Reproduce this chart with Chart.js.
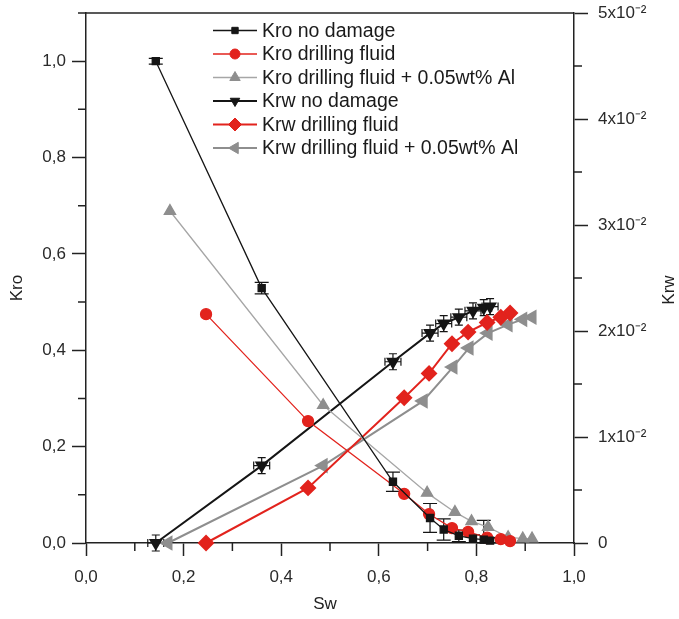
<!DOCTYPE html>
<html>
<head>
<meta charset="utf-8">
<script src="https://cdn.jsdelivr.net/npm/chart.js@4.4.0/dist/chart.umd.min.js"></script>
<style>
  html, body { margin: 0; padding: 0; background: #fff; }
  #wrap { width: 679px; height: 619px; position: relative; }
</style>
</head>
<body>
<div id="wrap"><canvas id="myChart"></canvas></div>
<script>
// Sw values and relative permeabilities
const swNoDamage = [0.143, 0.36, 0.629, 0.705, 0.733, 0.764, 0.793, 0.815, 0.828];
const kroNoDamage = [1.0, 0.529, 0.127, 0.052, 0.028, 0.015, 0.009, 0.007, 0.005];
const kroNoDamageErr = [0.006, 0.012, 0.02, 0.03, 0.022, 0.012, 0.008, 0.04, 0.006];
const krwNoDamage = [0, 0.0073, 0.0171, 0.0198, 0.0207, 0.0213, 0.0219, 0.0222, 0.0223];

const swFluid = [0.246, 0.455, 0.652, 0.703, 0.75, 0.783, 0.822, 0.85, 0.869];
const kroFluid = [0.475, 0.253, 0.102, 0.06, 0.031, 0.023, 0.011, 0.008, 0.004];
const krwFluid = [0, 0.0052, 0.0137, 0.016, 0.0188, 0.0199, 0.0208, 0.0213, 0.0217];

const swAlKro = [0.172, 0.486, 0.699, 0.756, 0.79, 0.824, 0.865, 0.895, 0.914];
const kroAl = [0.689, 0.286, 0.104, 0.064, 0.045, 0.033, 0.012, 0.009, 0.009];
const swAlKrw = [0.168, 0.486, 0.691, 0.752, 0.785, 0.824, 0.865, 0.895, 0.914];
const krwAl = [0, 0.0073, 0.0134, 0.0166, 0.0184, 0.0198, 0.0206, 0.0211, 0.0213];

const xTicks = [0, 0.2, 0.4, 0.6, 0.8, 1.0];
const kroTicks = [0, 0.2, 0.4, 0.6, 0.8, 1.0];
const krwTicks = [0, 0.01, 0.02, 0.03, 0.04, 0.05];

const BLACK = '#151515';
const RED = '#e2231d';
const GRAY = '#8e8e8e';
const LIGHTGRAY = '#a6a6a6';
const FONT = '"Liberation Sans", Arial, sans-serif';

function pts(xs, ys) {
    return xs.map((x, i) => ({ x: x, y: ys[i] }));
}

const extras = {
    id: 'extras',
    beforeDatasetsDraw(chart) {
        const ctx = chart.ctx;
        const x = chart.scales.x, y = chart.scales.y, y1 = chart.scales.y1;
        ctx.save();
        ctx.strokeStyle = BLACK;
        ctx.lineWidth = 1.2;
        // error bars Kro no damage
        swNoDamage.forEach((sw, i) => {
            const px = x.getPixelForValue(sw);
            const top = y.getPixelForValue(kroNoDamage[i] + kroNoDamageErr[i]);
            const bot = y.getPixelForValue(Math.max(0, kroNoDamage[i] - kroNoDamageErr[i]));
            ctx.beginPath();
            ctx.moveTo(px, top); ctx.lineTo(px, bot);
            ctx.moveTo(px - 7, top); ctx.lineTo(px + 7, top);
            ctx.moveTo(px - 7, bot); ctx.lineTo(px + 7, bot);
            ctx.stroke();
        });
        // error bars Krw no damage (vertical + horizontal)
        swNoDamage.forEach((sw, i) => {
            const px = x.getPixelForValue(sw);
            const py = y1.getPixelForValue(krwNoDamage[i]);
            ctx.beginPath();
            ctx.moveTo(px, py - 8); ctx.lineTo(px, py + 8);
            ctx.moveTo(px - 4, py - 8); ctx.lineTo(px + 4, py - 8);
            ctx.moveTo(px - 4, py + 8); ctx.lineTo(px + 4, py + 8);
            ctx.moveTo(px - 8, py); ctx.lineTo(px + 8, py);
            ctx.moveTo(px - 8, py - 4); ctx.lineTo(px - 8, py + 4);
            ctx.moveTo(px + 8, py - 4); ctx.lineTo(px + 8, py + 4);
            ctx.stroke();
        });
        ctx.restore();
    },
    afterDraw(chart) {
        const ctx = chart.ctx;
        const a = chart.chartArea;
        const x = chart.scales.x, y = chart.scales.y, y1 = chart.scales.y1;
        ctx.save();
        ctx.strokeStyle = '#222';
        ctx.lineWidth = 1.5;
        // top frame line
        ctx.beginPath();
        ctx.moveTo(a.left - 8, a.top); ctx.lineTo(a.right, a.top);
        ctx.stroke();
        // minor ticks
        ctx.beginPath();
        for (let v = 0.1; v < 1; v += 0.2) {
            const px = x.getPixelForValue(v);
            ctx.moveTo(px, a.bottom); ctx.lineTo(px, a.bottom + 8);
            const py = y.getPixelForValue(v);
            ctx.moveTo(a.left, py); ctx.lineTo(a.left - 8, py);
        }
        for (let v = 0.005; v < 0.05; v += 0.01) {
            const py = y1.getPixelForValue(v);
            ctx.moveTo(a.right, py); ctx.lineTo(a.right + 8, py);
        }
        ctx.stroke();

        // axis titles
        ctx.fillStyle = '#222';
        ctx.font = '17px ' + FONT;
        ctx.textAlign = 'center';
        ctx.textBaseline = 'middle';
        ctx.fillText('Sw', (a.left + a.right) / 2 - 5, 604);
        ctx.save();
        ctx.translate(17, 288);
        ctx.rotate(-Math.PI / 2);
        ctx.fillText('Kro', 0, 0);
        ctx.restore();
        ctx.save();
        ctx.translate(669, 290);
        ctx.rotate(-Math.PI / 2);
        ctx.fillText('Krw', 0, 0);
        ctx.restore();

        // legend
        ctx.font = '19.5px ' + FONT;
        ctx.textAlign = 'left';
        chart.data.datasets.forEach((ds, i) => {
            const ly = 30.5 + i * 23.5;
            ctx.strokeStyle = ds.borderColor;
            ctx.lineWidth = ds.borderWidth;
            ctx.beginPath();
            ctx.moveTo(213, ly); ctx.lineTo(257, ly);
            ctx.stroke();
            ctx.fillStyle = ds.pointBackgroundColor;
            ctx.strokeStyle = ds.pointBorderColor;
            ctx.lineWidth = 1;
            Chart.helpers.drawPoint(ctx, {
                pointStyle: ds.pointStyle,
                radius: ds.pointRadius - 0.5,
                rotation: ds.pointRotation || 0,
                borderWidth: 1
            }, 235, ly);
            ctx.fillStyle = '#1a1a1a';
            ctx.fillText(ds.label, 262, ly + 1);
        });
        ctx.restore();
    }
};

const ctx = document.getElementById('myChart');

new Chart(ctx, {
    type: 'scatter',
    data: {
        datasets: [{
            label: 'Kro no damage',
            data: pts(swNoDamage, kroNoDamage),
            yAxisID: 'y',
            showLine: true,
            borderColor: BLACK,
            borderWidth: 1.3,
            pointStyle: 'rect',
            pointRadius: 5,
            pointBackgroundColor: BLACK,
            pointBorderColor: BLACK
        }, {
            label: 'Kro drilling fluid',
            data: pts(swFluid, kroFluid),
            yAxisID: 'y',
            showLine: true,
            borderColor: RED,
            borderWidth: 1.3,
            pointStyle: 'circle',
            pointRadius: 5.5,
            pointBackgroundColor: RED,
            pointBorderColor: RED
        }, {
            label: 'Kro drilling fluid + 0.05wt% Al',
            data: pts(swAlKro, kroAl),
            yAxisID: 'y',
            showLine: true,
            borderColor: LIGHTGRAY,
            borderWidth: 1.3,
            pointStyle: 'triangle',
            pointRadius: 6.5,
            pointBackgroundColor: GRAY,
            pointBorderColor: GRAY
        }, {
            label: 'Krw no damage',
            data: pts(swNoDamage, krwNoDamage),
            yAxisID: 'y1',
            showLine: true,
            borderColor: BLACK,
            borderWidth: 2,
            pointStyle: 'triangle',
            pointRotation: 180,
            pointRadius: 6,
            pointBackgroundColor: BLACK,
            pointBorderColor: BLACK
        }, {
            label: 'Krw drilling fluid',
            data: pts(swFluid, krwFluid),
            yAxisID: 'y1',
            showLine: true,
            borderColor: RED,
            borderWidth: 2,
            pointStyle: 'rectRot',
            pointRadius: 7,
            pointBackgroundColor: RED,
            pointBorderColor: RED
        }, {
            label: 'Krw drilling fluid + 0.05wt% Al',
            data: pts(swAlKrw, krwAl),
            yAxisID: 'y1',
            showLine: true,
            borderColor: GRAY,
            borderWidth: 2,
            pointStyle: 'triangle',
            pointRotation: -90,
            pointRadius: 7,
            pointBackgroundColor: GRAY,
            pointBorderColor: GRAY
        }]
    },
    options: {
        responsive: true,
        maintainAspectRatio: false,
        animation: false,
        layout: { padding: { top: 13, left: 0, right: 0, bottom: 0 } },
        elements: { line: { tension: 0 } },
        datasets: { scatter: { clip: false } },
        plugins: {
            legend: { display: false },
            tooltip: { enabled: false }
        },
        scales: {
            x: {
                type: 'linear',
                min: 0,
                max: 1,
                afterFit: s => { s.height = 76; s.paddingLeft = 0; s.paddingRight = 0; },
                afterBuildTicks: s => { s.ticks = xTicks.map(v => ({ value: v })); },
                border: { display: true, color: '#222', width: 1.5 },
                grid: { drawOnChartArea: false, drawTicks: true, tickLength: 13, tickColor: '#222', tickWidth: 1.5 },
                ticks: {
                    padding: 11,
                    color: '#2a2a2a',
                    font: { family: FONT, size: 17 },
                    maxRotation: 0,
                    callback: v => v.toFixed(1).replace('.', ',')
                }
            },
            y: {
                type: 'linear',
                position: 'left',
                min: 0,
                max: 1.1,
                afterFit: s => { s.width = 86; s.paddingTop = 0; s.paddingBottom = 0; },
                afterBuildTicks: s => { s.ticks = kroTicks.map(v => ({ value: v })); },
                border: { display: true, color: '#222', width: 1.5 },
                grid: { drawOnChartArea: false, drawTicks: true, tickLength: 14, tickColor: '#222', tickWidth: 1.5 },
                ticks: {
                    padding: 6,
                    color: '#2a2a2a',
                    font: { family: FONT, size: 17 },
                    callback: v => v.toFixed(1).replace('.', ',')
                }
            },
            y1: {
                type: 'linear',
                position: 'right',
                min: 0,
                max: 0.05,
                afterFit: s => { s.width = 105; s.paddingTop = 0; s.paddingBottom = 0; },
                afterBuildTicks: s => { s.ticks = krwTicks.map(v => ({ value: v })); },
                border: { display: true, color: '#222', width: 1.5 },
                grid: { drawOnChartArea: false, drawTicks: true, tickLength: 14, tickColor: '#222', tickWidth: 1.5 },
                ticks: {
                    padding: 10,
                    color: '#2a2a2a',
                    font: { family: FONT, size: 17 },
                    callback: v => v === 0 ? '0' : Math.round(v * 100) + 'x10\u207B\u00B2'
                }
            }
        }
    },
    plugins: [extras]
});
</script>
</body>
</html>
